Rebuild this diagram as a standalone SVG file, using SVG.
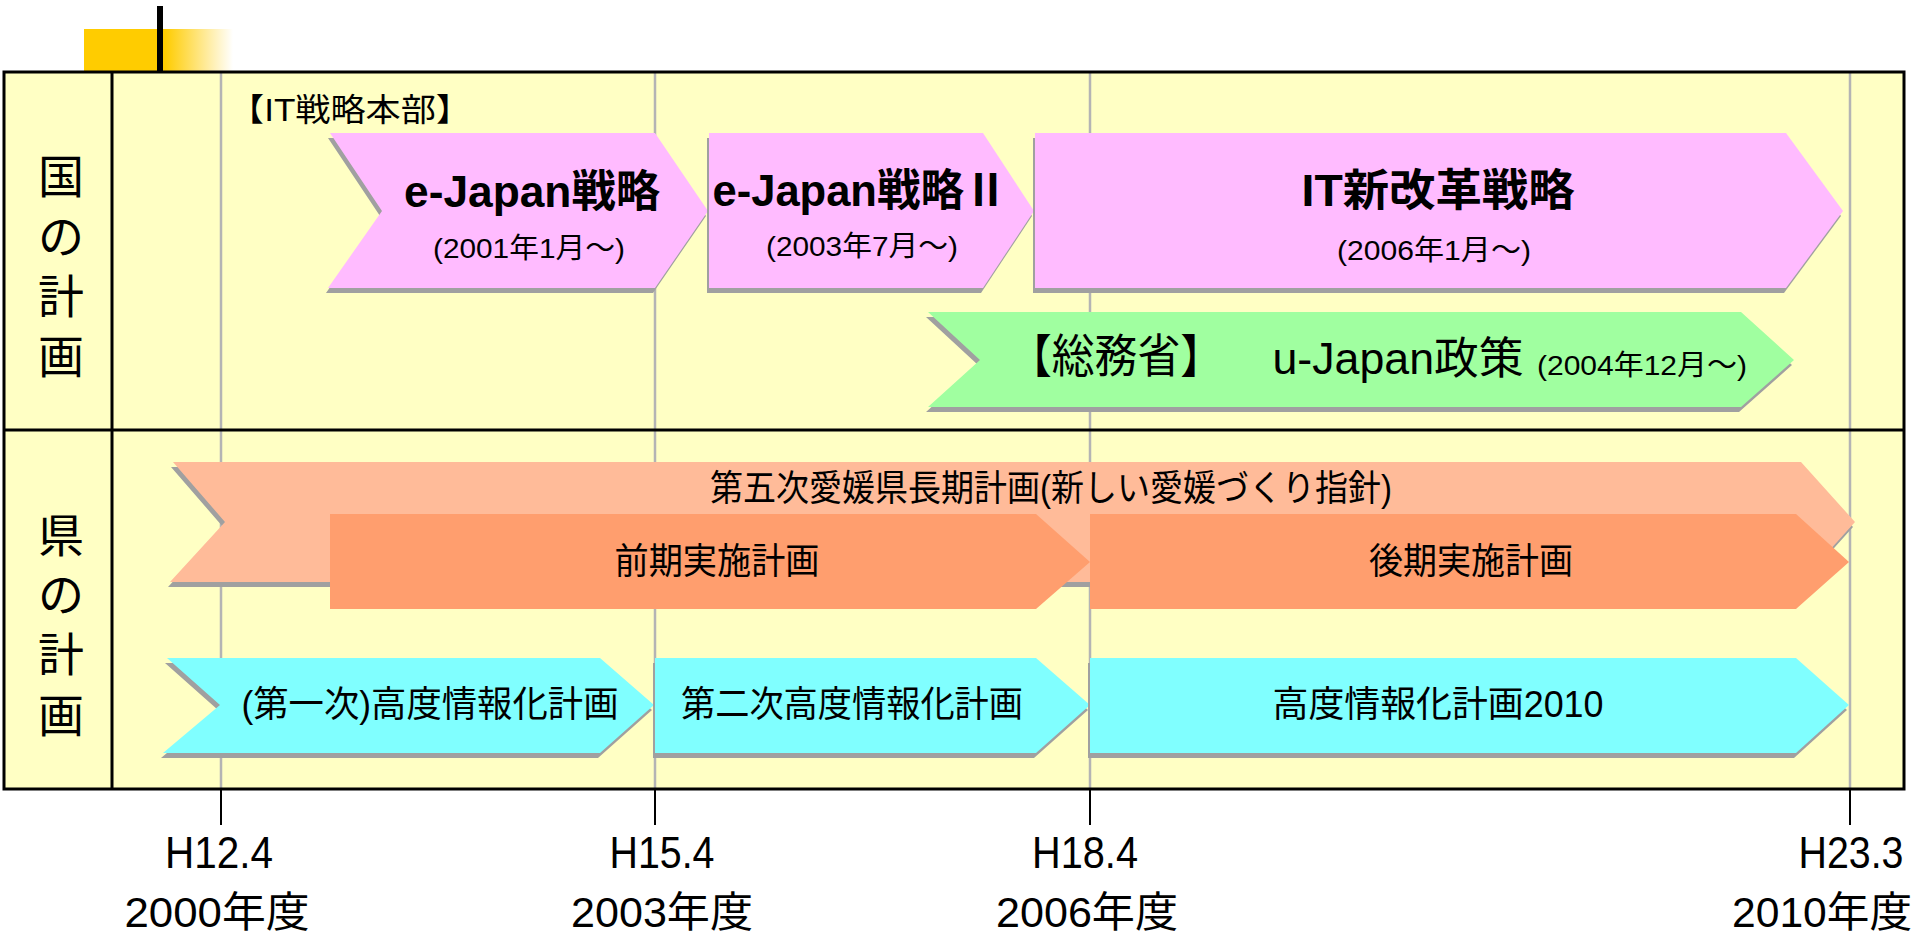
<svg xmlns="http://www.w3.org/2000/svg" width="1915" height="937" viewBox="0 0 1915 937">
<defs>
<linearGradient id="fade" x1="0" y1="0" x2="1" y2="0">
<stop offset="0" stop-color="#FFCC00"/>
<stop offset="1" stop-color="#FFFFFF"/>
</linearGradient>
<style>
text{font-family:"Liberation Sans","Noto Sans CJK JP",sans-serif;fill:#000;text-anchor:middle;dominant-baseline:central}
.b{font-weight:bold;font-size:44px}
.m{font-size:44px}
.s{font-size:28px}
.t{font-size:36px}
.lab{font-size:46px}
.ax{font-size:44px}
.yr{font-size:42px}
.shadow{fill:#A0A0A0}
.pink{fill:#FFBBFF}
.green{fill:#A0FFA0}
.lor{fill:#FFBB99}
.dor{fill:#FF9E6E}
.cyan{fill:#80FFFF}
.grid{stroke:#B4B4B4;stroke-width:2.5}
.tick{stroke:#000;stroke-width:2}
.frame{stroke:#000;stroke-width:3;fill:none}
</style>
</defs>
<g id="decor">
<rect x="84" y="29" width="82" height="44" fill="#FFCC00"/>
<rect x="165" y="29" width="68" height="44" fill="url(#fade)"/>
<rect x="157" y="6" width="6" height="67" fill="#000"/>
</g>
<g id="table">
<rect x="4" y="72" width="1900" height="717" fill="#FFFFC4"/>
</g>
<g id="connectors">
<line class="grid" x1="221" y1="73" x2="221" y2="789"/>
<line class="grid" x1="655" y1="73" x2="655" y2="789"/>
<line class="grid" x1="1090" y1="73" x2="1090" y2="789"/>
<line class="grid" x1="1850" y1="73" x2="1850" y2="789"/>
<line class="tick" x1="221" y1="789" x2="221" y2="825"/>
<line class="tick" x1="655" y1="789" x2="655" y2="825"/>
<line class="tick" x1="1090" y1="789" x2="1090" y2="825"/>
<line class="tick" x1="1850" y1="789" x2="1850" y2="825"/>
</g>
<g id="frame">
<rect class="frame" x="4" y="72" width="1900" height="717"/>
<line class="frame" x1="112" y1="72" x2="112" y2="789"/>
<line class="frame" x1="4" y1="430" x2="1904" y2="430"/>
</g>
<g id="label-kuni">
<text class="lab" x="61" y="177">国</text>
<text class="lab" x="61" y="237">の</text>
<text class="lab" x="61" y="297">計</text>
<text class="lab" x="61" y="357">画</text>
</g>
<g id="label-ken">
<text class="lab" x="61" y="536">県</text>
<text class="lab" x="61" y="595">の</text>
<text class="lab" x="61" y="655">計</text>
<text class="lab" x="61" y="716">画</text>
</g>
<g id="it-honbu">
<text x="350" y="110" font-size="32" textLength="242" lengthAdjust="spacingAndGlyphs">【IT戦略本部】</text>
</g>
<g id="ejapan">
<polygon class="shadow" transform="translate(-2,5)" points="330,133 655,133 708,211 655,288 328,288 382,211"/>
<polygon class="pink" points="330,133 655,133 708,211 655,288 328,288 382,211"/>
<text class="b" x="532" y="191" textLength="256" lengthAdjust="spacingAndGlyphs">e-Japan戦略</text>
<text class="s" x="529" y="248" textLength="192" lengthAdjust="spacingAndGlyphs">(2001年1月～)</text>
</g>
<g id="ejapan2">
<polygon class="shadow" transform="translate(-2,5)" points="709,133 983,133 1034,211 983,288 709,288"/>
<polygon class="pink" points="709,133 983,133 1034,211 983,288 709,288"/>
<text class="b" x="860" y="190" textLength="295" lengthAdjust="spacingAndGlyphs">e-Japan戦略Ⅱ</text>
<text class="s" x="862" y="246" textLength="192" lengthAdjust="spacingAndGlyphs">(2003年7月～)</text>
</g>
<g id="it-shin">
<polygon class="shadow" transform="translate(-2,5)" points="1035,133 1786,133 1843,211 1786,288 1035,288"/>
<polygon class="pink" points="1035,133 1786,133 1843,211 1786,288 1035,288"/>
<text class="b" x="1438" y="190" textLength="273" lengthAdjust="spacingAndGlyphs">IT新改革戦略</text>
<text class="s" x="1434" y="250" textLength="194" lengthAdjust="spacingAndGlyphs">(2006年1月～)</text>
</g>
<g id="ujapan">
<polygon class="shadow" transform="translate(-2,5)" points="928,312 1741,312 1794,360 1741,407 928,407 980,360"/>
<polygon class="green" points="928,312 1741,312 1794,360 1741,407 928,407 980,360"/>
<text x="1116" y="356" font-size="46" textLength="214" lengthAdjust="spacingAndGlyphs">【総務省】</text>
<text class="m" x="1398" y="358" textLength="251" lengthAdjust="spacingAndGlyphs">u-Japan政策</text>
<text class="s" x="1642" y="365" textLength="210" lengthAdjust="spacingAndGlyphs">(2004年12月～)</text>
</g>
<g id="choki">
<polygon class="shadow" transform="translate(-2,5)" points="173,462 1801,462 1855,522 1801,582 170,582 225,522"/>
<polygon class="lor" points="173,462 1801,462 1855,522 1801,582 170,582 225,522"/>
<text class="t" x="1051" y="488" textLength="682" lengthAdjust="spacingAndGlyphs">第五次愛媛県長期計画(新しい愛媛づくり指針)</text>
</g>
<g id="zenki">
<polygon class="dor" points="330,514 1036,514 1090,562 1036,609 330,609"/>
<text class="t" x="717" y="561" textLength="205" lengthAdjust="spacingAndGlyphs">前期実施計画</text>
</g>
<g id="koki">
<polygon class="dor" points="1090,514 1796,514 1849,562 1796,609 1090,609"/>
<text class="t" x="1471" y="561" textLength="204" lengthAdjust="spacingAndGlyphs">後期実施計画</text>
</g>
<g id="joho1">
<polygon class="shadow" transform="translate(-2,5)" points="167,658 600,658 654,705 600,753 163,753 220,705"/>
<polygon class="cyan" points="167,658 600,658 654,705 600,753 163,753 220,705"/>
<text class="t" x="430" y="704" textLength="377" lengthAdjust="spacingAndGlyphs">(第一次)高度情報化計画</text>
</g>
<g id="joho2">
<polygon class="shadow" transform="translate(-2,5)" points="655,658 1036,658 1090,705 1036,753 655,753"/>
<polygon class="cyan" points="655,658 1036,658 1090,705 1036,753 655,753"/>
<text class="t" x="852" y="704" textLength="342" lengthAdjust="spacingAndGlyphs">第二次高度情報化計画</text>
</g>
<g id="joho2010">
<polygon class="shadow" transform="translate(-2,5)" points="1090,658 1796,658 1849,705 1796,753 1090,753"/>
<polygon class="cyan" points="1090,658 1796,658 1849,705 1796,753 1090,753"/>
<text class="t" x="1438" y="704" textLength="331" lengthAdjust="spacingAndGlyphs">高度情報化計画2010</text>
</g>
<g id="axis">
<text class="ax" x="219" y="852" textLength="108" lengthAdjust="spacingAndGlyphs">H12.4</text>
<text class="ax" x="662" y="852" textLength="105" lengthAdjust="spacingAndGlyphs">H15.4</text>
<text class="ax" x="1085" y="852" textLength="106" lengthAdjust="spacingAndGlyphs">H18.4</text>
<text class="ax" x="1851" y="852" textLength="105" lengthAdjust="spacingAndGlyphs">H23.3</text>
<text class="yr" x="217" y="912" textLength="185" lengthAdjust="spacingAndGlyphs">2000年度</text>
<text class="yr" x="662" y="912" textLength="182" lengthAdjust="spacingAndGlyphs">2003年度</text>
<text class="yr" x="1087" y="912" textLength="182" lengthAdjust="spacingAndGlyphs">2006年度</text>
<text class="yr" x="1822" y="912" textLength="180" lengthAdjust="spacingAndGlyphs">2010年度</text>
</g>
</svg>
